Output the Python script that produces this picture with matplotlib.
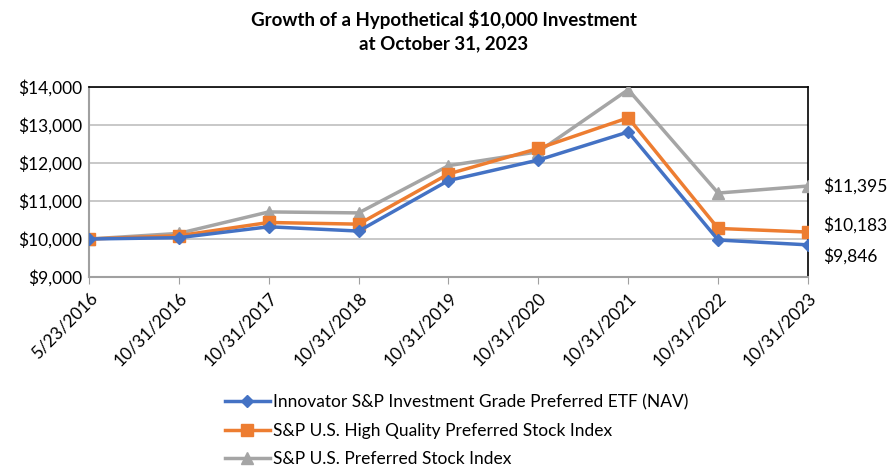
import matplotlib.pyplot as plt

plt.rcParams['font.family'] = ['Lato', 'DejaVu Sans']

dates = ["5/23/2016", "10/31/2016", "10/31/2017", "10/31/2018", "10/31/2019",
         "10/31/2020", "10/31/2021", "10/31/2022", "10/31/2023"]
fund = [10000, 10035, 10322, 10209, 11539, 12078, 12817, 9974, 9846]
hq_index = [10000, 10087, 10435, 10391, 11713, 12383, 13190, 10278, 10183]
pref_index = [10000, 10148, 10713, 10687, 11930, 12296, 13930, 11209, 11395]
names = ["Innovator S&P Investment Grade Preferred ETF (NAV)",
         "S&P U.S. High Quality Preferred Stock Index",
         "S&P U.S. Preferred Stock Index"]
end_labels = ["\\$9,846", "\\$10,183", "\\$11,395"]

fig = plt.figure(figsize=(8.88, 4.72), dpi=100)
ax = fig.add_axes([0.1002, 0.4131, 0.8097, 0.4026])

x = list(range(len(dates)))
l1, = ax.plot(x, fund, color="#4472C4", lw=2.5, marker="D", ms=6, zorder=5)
l2, = ax.plot(x, hq_index, color="#ED7D31", lw=2.5, marker="s", ms=8, zorder=4)
l3, = ax.plot(x, pref_index, color="#A5A5A5", lw=2.5, marker="^", ms=9, zorder=3)

ax.set_xlim(0, len(dates) - 1)
ax.set_ylim(9000, 14000)
ax.set_yticks(range(9000, 14001, 1000))
ax.set_yticklabels(["\\${:,}".format(v) for v in range(9000, 14001, 1000)], fontsize=12.5)
ax.set_xticks(x)
ax.set_xticklabels(dates, rotation=45, ha="right", rotation_mode="anchor", fontsize=12.5)
ax.yaxis.grid(True, color="#BFBFBF", lw=1.2)
ax.set_axisbelow(True)
ax.tick_params(axis="y", length=0, pad=5)
ax.tick_params(axis="x", length=5, color="#A0A0A0", direction="out", pad=4)
for s in ["left", "bottom"]:
    ax.spines[s].set_color("#A0A0A0")
    ax.spines[s].set_linewidth(1.5)
for s in ["top", "right"]:
    ax.spines[s].set_color("black")
    ax.spines[s].set_linewidth(1.2)

# end value labels
for vals, lab, dy in zip([fund, hq_index, pref_index], end_labels, [-8, 5, 0]):
    ax.annotate(lab, (x[-1], vals[-1]), xytext=(11, dy), textcoords="offset points",
                va="center", ha="left", fontsize=12.5, annotation_clip=False)

fig.text(0.5, 0.978, "Growth of a Hypothetical \\$10,000 Investment\nat October 31, 2023",
         ha="center", va="top", fontsize=13.5, fontweight="bold", linespacing=1.4)

fig.legend([l1, l2, l3], names, loc="upper left", bbox_to_anchor=(0.245, 0.18),
           frameon=False, fontsize=12.5, handlelength=2.6, handletextpad=0.2,
           labelspacing=0.72, borderaxespad=0)

fig.savefig("out.png", dpi=100)
